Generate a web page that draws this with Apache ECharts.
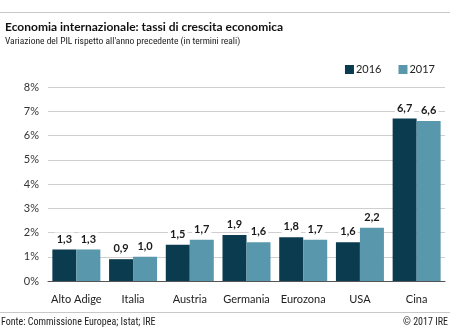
<!DOCTYPE html>
<html>
<head>
<meta charset="utf-8">
<script src="https://cdn.jsdelivr.net/npm/echarts@6/dist/echarts.min.js"></script>
<style>
  html, body { margin: 0; padding: 0; background: #fff; }
  #chart { width: 450px; height: 332px; }
</style>
</head>
<body>
<div id="chart"></div>
<script>
// Real GDP growth rates, % change on previous year
const regions = ['Alto Adige', 'Italia', 'Austria', 'Germania', 'Eurozona', 'USA', 'Cina'];
const growth2016 = [1.3, 0.9, 1.5, 1.9, 1.8, 1.6, 6.7];
const growth2017 = [1.3, 1.0, 1.7, 1.6, 1.7, 2.2, 6.6];
const yTicks = [0, 1, 2, 3, 4, 5, 6, 7, 8];

const FONT = 'Lato, "Liberation Sans", sans-serif';
const NARROW = '"Roboto Condensed", Lato, sans-serif';
const fmt = v => v.toFixed(1).replace('.', ',');

const label = {
  show: true,
  position: 'top',
  distance: 4,
  fontFamily: FONT,
  fontWeight: 'bold',
  fontSize: 11,
  color: '#1a1a1a',
  backgroundColor: '#fff',
  padding: [1, 2, 1, 2],
  formatter: p => fmt(p.value)
};

const chart = echarts.init(document.getElementById('chart'));
chart.setOption({
  animation: false,
  textStyle: { fontFamily: FONT },
  title: {
    text: 'Economia internazionale: tassi di crescita economica',
    subtext: "Variazione del PIL rispetto all'anno precedente (in termini reali)",
    left: 0,
    top: 16,
    itemGap: 4,
    textStyle: { fontFamily: FONT, fontSize: 12, fontWeight: 'bold', color: '#111' },
    subtextStyle: { fontFamily: NARROW, fontSize: 9.5, color: '#222' }
  },
  legend: {
    right: 10,
    top: 59,
    itemWidth: 9,
    itemHeight: 9,
    itemGap: 17,
    icon: 'rect',
    textStyle: { fontFamily: FONT, fontSize: 11, color: '#222', padding: [0, 0, 0, -3] },
    data: ['2016', '2017']
  },
  grid: { left: 48, right: 5, top: 87, bottom: 51, containLabel: false },
  xAxis: {
    type: 'category',
    data: regions,
    axisLine: { lineStyle: { color: '#555', width: 1 } },
    axisTick: { show: false },
    axisLabel: { interval: 0, fontFamily: FONT, fontSize: 11, color: '#222', margin: 13 }
  },
  yAxis: {
    type: 'value',
    min: yTicks[0],
    max: yTicks[yTicks.length - 1],
    interval: 1,
    axisLine: { show: false },
    axisTick: { show: false },
    axisLabel: { fontFamily: FONT, fontSize: 11, color: '#333', margin: 9, formatter: '{value}%' },
    splitLine: { lineStyle: { color: '#cfcfcf', width: 1 } }
  },
  series: [
    {
      name: '2016',
      type: 'bar',
      data: growth2016,
      barWidth: 24,
      barGap: '0%',
      itemStyle: { color: '#0b3b4f' },
      label: label
    },
    {
      name: '2017',
      type: 'bar',
      data: growth2017,
      barWidth: 24,
      itemStyle: { color: '#5997ad' },
      label: label
    }
  ],
  graphic: [
    { type: 'rect', shape: { x: 0, y: 12, width: 450, height: 1 }, style: { fill: '#c8c8c8' } },
    { type: 'rect', shape: { x: 0, y: 312, width: 450, height: 1 }, style: { fill: '#c8c8c8' } },
    {
      type: 'text', left: 1, top: 317,
      style: { text: 'Fonte: Commissione Europea; Istat; IRE', font: '10px ' + NARROW, fill: '#222' }
    },
    {
      type: 'text', right: 2, top: 317,
      style: { text: '© 2017 IRE', font: '10px ' + NARROW, fill: '#222' }
    }
  ]
});
</script>
</body>
</html>
